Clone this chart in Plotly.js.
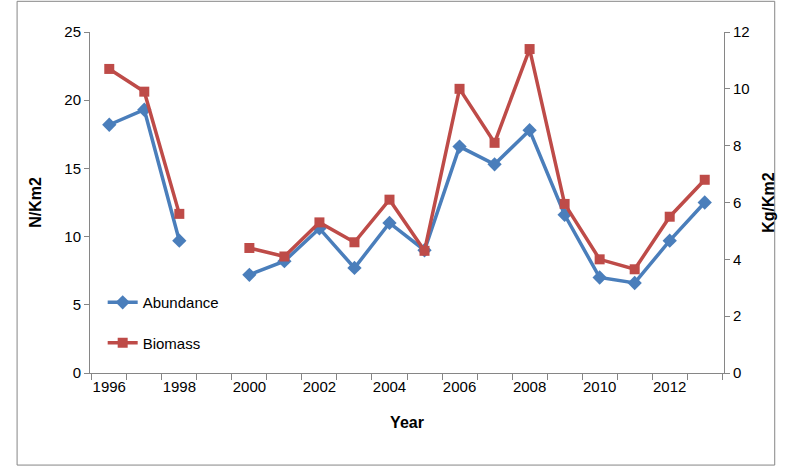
<!DOCTYPE html>
<html>
<head>
<script src="https://cdn.plot.ly/plotly-3.0.1.min.js"></script>
<style>body{margin:0}#chart{width:790px;height:466px}</style>
</head>
<body>
<div id="chart"></div>
<script>
var years = [1996,1997,1998,1999,2000,2001,2002,2003,2004,2005,2006,2007,2008,2009,2010,2011,2012,2013]
var abundance = [18.2,19.3,9.7,null,7.2,8.2,10.6,7.7,11.0,9.0,16.6,15.3,17.8,11.6,7.0,6.6,9.7,12.5]
var biomass = [10.7,9.9,5.6,null,4.4,4.1,5.3,4.6,6.1,4.3,10.0,8.1,11.4,5.95,4.0,3.65,5.5,6.8]
var yearTicks = [1996,1998,2000,2002,2004,2006,2008,2010,2012]

var font = {family: "Liberation Sans, Arial", size: 15, color: "#000"}

var traceA = {
  x: years, y: abundance, name: "Abundance", type: "scatter", mode: "lines+markers", legendgroup: "a",
  line: {color: "#4a7ebb", width: 3.5},
  marker: {symbol: "diamond", size: 11, color: "#4a7ebb"}
}
var traceB = {
  x: years, y: biomass, name: "Biomass", type: "scatter", mode: "lines+markers", yaxis: "y2", legendgroup: "b",
  line: {color: "#be4b48", width: 3.5},
  marker: {symbol: "square", size: 10, color: "#be4b48"}
}

var layout = {
  width: 790, height: 466,
  margin: {l: 90, r: 66, t: 32, b: 93},
  font: font,
  showlegend: true,
  legend: {x: 0.02, y: 0.255, yanchor: "top", font: {size: 15}, tracegroupgap: 18, bgcolor: "rgba(0,0,0,0)"},
  xaxis: {
    range: [1995.45, 2013.55], tickvals: yearTicks, ticks: "", showgrid: false, zeroline: false,
    showline: true, linecolor: "#868686", linewidth: 1,
    minor: {tick0: 1995.5, dtick: 1, ticks: "outside", ticklen: 6, tickcolor: "#868686", showgrid: false},
    title: {text: "<b>Year</b>", font: {size: 16}, standoff: 22}
  },
  yaxis: {
    range: [0, 25], dtick: 5, ticks: "outside", ticklen: 5, tickcolor: "#868686",
    showgrid: false, zeroline: false, showline: true, linecolor: "#868686",
    title: {text: "<b>N/Km2</b>", font: {size: 16}, standoff: 18}
  },
  yaxis2: {
    range: [0, 12], dtick: 2, overlaying: "y", side: "right", ticks: "outside", ticklen: 5,
    tickcolor: "#868686", showgrid: false, zeroline: false, showline: true, linecolor: "#868686",
    title: {text: "<b>Kg/Km2</b>", font: {size: 16}, standoff: 14}
  },
  shapes: [{type: "rect", xref: "paper", yref: "paper", x0: -0.115, x1: 1.08, y0: -0.27, y1: 1.09,
    line: {color: "#868686", width: 1}}]
}

Plotly.newPlot("chart", [traceA, traceB], layout, {displayModeBar: false})
</script>
</body>
</html>
